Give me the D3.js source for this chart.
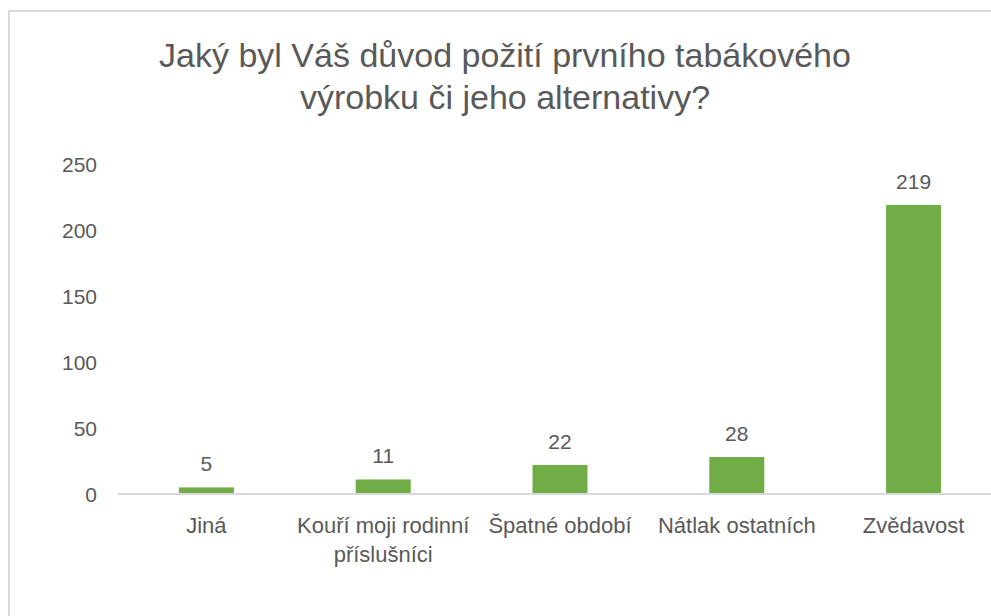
<!DOCTYPE html>
<html>
<head>
<meta charset="utf-8">
<script src="https://cdn.jsdelivr.net/npm/d3@7"></script>
<style>
  html, body { margin: 0; padding: 0; background: #fff; overflow: hidden; }
  text { font-family: "Liberation Sans", Arial, sans-serif; fill: #595959; }
</style>
</head>
<body>
<div id="chart"></div>
<script>
// chart data
const titleLines = ['Jaký byl Váš důvod požití prvního tabákového', 'výrobku či jeho alternativy?'];
const categories = ['Jiná', 'Kouří moji rodinní příslušníci', 'Špatné období', 'Nátlak ostatních', 'Zvědavost'];
const counts = [5, 11, 22, 28, 219];
const yTicks = [0, 50, 100, 150, 200, 250];

const width = 991, height = 616;
const svg = d3.select('#chart').append('svg')
    .attr('width', width)
    .attr('height', height);

// chart area border (runs off the right and bottom edge)
svg.append('rect')
    .attr('x', 9).attr('y', 11)
    .attr('width', 1000).attr('height', 700)
    .attr('fill', 'none')
    .attr('stroke', '#d9d9d9')
    .attr('stroke-width', 2);

// title
svg.append('g').selectAll('text')
    .data(titleLines)
    .enter()
    .append('text')
    .attr('x', 505)
    .attr('y', (d, i) => 67 + i * 42)
    .attr('text-anchor', 'middle')
    .attr('font-size', 34)
    .text(d => d);

const x = d3.scaleBand()
    .domain(categories)
    .range([118, 1002])
    .paddingInner(0.689)
    .paddingOuter(0.3445);

const y = d3.scaleLinear()
    .domain([0, 250])
    .range([494, 164]);

// y axis labels, no line
const yAxis = svg.append('g')
    .attr('transform', 'translate(97,0)')
    .call(d3.axisLeft(y).tickValues(yTicks).tickSize(0).tickPadding(0));
yAxis.select('.domain').remove();
yAxis.selectAll('text')
    .attr('font-size', 21)
    .attr('dy', '0.35em')
    .style('font-family', '"Liberation Sans", Arial, sans-serif')
    .attr('fill', '#595959');

// bars
svg.append('g').selectAll('rect')
    .data(counts)
    .enter()
    .append('rect')
    .attr('x', (d, i) => x(categories[i]))
    .attr('y', d => y(d))
    .attr('width', x.bandwidth())
    .attr('height', d => y(0) - y(d))
    .attr('fill', '#70ad47');

// baseline
svg.append('line')
    .attr('x1', 118).attr('x2', 1002)
    .attr('y1', y(0)).attr('y2', y(0))
    .attr('stroke', '#d9d9d9')
    .attr('stroke-width', 2);

// value labels
svg.append('g').selectAll('text')
    .data(counts)
    .enter()
    .append('text')
    .attr('x', (d, i) => x(categories[i]) + x.bandwidth() / 2)
    .attr('y', d => y(d) - 16)
    .attr('text-anchor', 'middle')
    .attr('font-size', 21)
    .text(d => d);

// category labels, wrapped to the category width
const xAxis = svg.append('g')
    .attr('transform', `translate(0,${y(0)})`)
    .call(d3.axisBottom(x).tickSize(0).tickPadding(0));
xAxis.select('.domain').remove();
xAxis.selectAll('text')
    .attr('font-size', 22)
    .style('font-family', '"Liberation Sans", Arial, sans-serif')
    .attr('fill', '#595959')
    .attr('dy', null)
    .attr('y', 39)
    .each(function (d) {
        const t = d3.select(this);
        const words = d.split(' ');
        t.text(null);
        let line = [];
        let tspan = t.append('tspan').attr('x', 0).attr('y', 39);
        let lineNo = 0;
        words.forEach(w => {
            line.push(w);
            tspan.text(line.join(' '));
            if (tspan.node().getComputedTextLength() > x.step() && line.length > 1) {
                line.pop();
                tspan.text(line.join(' '));
                line = [w];
                lineNo++;
                tspan = t.append('tspan').attr('x', 0).attr('y', 39 + lineNo * 29).text(w);
            }
        });
    });
</script>
</body>
</html>
